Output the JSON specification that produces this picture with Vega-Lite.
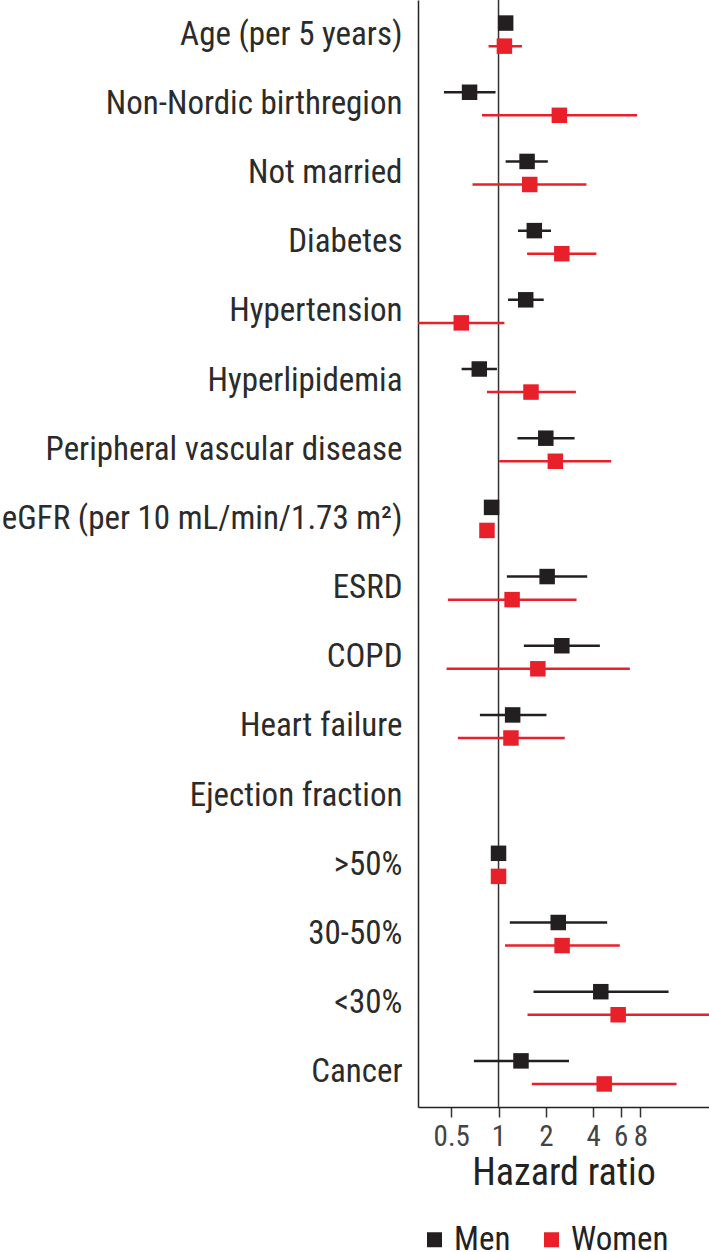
{
  "$schema": "https://vega.github.io/schema/vega-lite/v6.json",
  "autosize": {"type": "none"},
  "padding": {"left": 418, "top": 0, "right": 0, "bottom": 145},
  "width": 291,
  "height": 1107,
  "config": {
    "font": "'Roboto Condensed', Roboto, sans-serif",
    "view": {"stroke": null}
  },
  "data": {
    "values": [
      {"var": "Age (per 5 years)", "sex": "Men", "hr": 1.11, "lo": 1.08, "hi": 1.14},
      {"var": "Age (per 5 years)", "sex": "Women", "hr": 1.09, "lo": 0.864, "hi": 1.41},
      {"var": "Non-Nordic birthregion", "sex": "Men", "hr": 0.654, "lo": 0.449, "hi": 0.957},
      {"var": "Non-Nordic birthregion", "sex": "Women", "hr": 2.44, "lo": 0.784, "hi": 7.63},
      {"var": "Not married", "sex": "Men", "hr": 1.52, "lo": 1.11, "hi": 2.06},
      {"var": "Not married", "sex": "Women", "hr": 1.58, "lo": 0.683, "hi": 3.63},
      {"var": "Diabetes", "sex": "Men", "hr": 1.69, "lo": 1.33, "hi": 2.16},
      {"var": "Diabetes", "sex": "Women", "hr": 2.53, "lo": 1.52, "hi": 4.2},
      {"var": "Hypertension", "sex": "Men", "hr": 1.49, "lo": 1.15, "hi": 1.94},
      {"var": "Hypertension", "sex": "Women", "hr": 0.579, "lo": 0.25, "hi": 1.09},
      {"var": "Hyperlipidemia", "sex": "Men", "hr": 0.754, "lo": 0.582, "hi": 0.977},
      {"var": "Hyperlipidemia", "sex": "Women", "hr": 1.61, "lo": 0.844, "hi": 3.11},
      {"var": "Peripheral vascular disease", "sex": "Men", "hr": 2.0, "lo": 1.32, "hi": 3.05},
      {"var": "Peripheral vascular disease", "sex": "Women", "hr": 2.3, "lo": 1.01, "hi": 5.22},
      {"var": "eGFR (per 10 mL/min/1.73 m²)", "sex": "Men", "hr": 0.903, "lo": 0.88, "hi": 0.93},
      {"var": "eGFR (per 10 mL/min/1.73 m²)", "sex": "Women", "hr": 0.844, "lo": 0.82, "hi": 0.87},
      {"var": "ESRD", "sex": "Men", "hr": 2.04, "lo": 1.13, "hi": 3.67},
      {"var": "ESRD", "sex": "Women", "hr": 1.22, "lo": 0.476, "hi": 3.14},
      {"var": "COPD", "sex": "Men", "hr": 2.53, "lo": 1.45, "hi": 4.42},
      {"var": "COPD", "sex": "Women", "hr": 1.78, "lo": 0.467, "hi": 6.86},
      {"var": "Heart failure", "sex": "Men", "hr": 1.23, "lo": 0.761, "hi": 2.02},
      {"var": "Heart failure", "sex": "Women", "hr": 1.2, "lo": 0.551, "hi": 2.64},
      {"var": ">50%", "sex": "Men", "hr": 1.0, "lo": null, "hi": null},
      {"var": ">50%", "sex": "Women", "hr": 1.0, "lo": null, "hi": null},
      {"var": "30-50%", "sex": "Men", "hr": 2.4, "lo": 1.18, "hi": 4.92},
      {"var": "30-50%", "sex": "Women", "hr": 2.54, "lo": 1.1, "hi": 5.92},
      {"var": "<30%", "sex": "Men", "hr": 4.48, "lo": 1.67, "hi": 12.1},
      {"var": "<30%", "sex": "Women", "hr": 5.78, "lo": 1.53, "hi": 24},
      {"var": "Cancer", "sex": "Men", "hr": 1.39, "lo": 0.697, "hi": 2.81},
      {"var": "Cancer", "sex": "Women", "hr": 4.71, "lo": 1.63, "hi": 13.6}
    ]
  },
  "encoding": {
    "y": {
      "field": "var",
      "type": "nominal",
      "scale": {
        "domain": ["Age (per 5 years)", "Non-Nordic birthregion", "Not married", "Diabetes", "Hypertension", "Hyperlipidemia", "Peripheral vascular disease", "eGFR (per 10 mL/min/1.73 m²)", "ESRD", "COPD", "Heart failure", "Ejection fraction", ">50%", "30-50%", "<30%", "Cancer"],
        "paddingInner": 0,
        "paddingOuter": 0
      },
      "axis": {
        "title": null,
        "ticks": false,
        "domain": true,
        "domainColor": "#222222",
        "domainWidth": 1.5,
        "labelFontSize": 33,
        "labelColor": "#2b2b2b",
        "labelPadding": 16,
        "labelLimit": 420
      }
    },
    "yOffset": {
      "field": "sex",
      "type": "nominal",
      "scale": {"domain": ["Men", "Women"], "paddingInner": 0, "paddingOuter": 0.5}
    },
    "color": {
      "field": "sex",
      "type": "nominal",
      "scale": {"domain": ["Men", "Women"], "range": ["#231f20", "#e8202a"]},
      "legend": {
        "title": null,
        "orient": "bottom",
        "direction": "horizontal",
        "symbolType": "square",
        "symbolSize": 225,
        "symbolStrokeWidth": 0,
        "labelFontSize": 33,
        "labelColor": "#222222",
        "labelOffset": 3,
        "columnPadding": 24,
        "offset": 31
      }
    }
  },
  "layer": [
    {
      "mark": {"type": "rule", "color": "#333333", "strokeWidth": 1.5},
      "data": {"values": [{"ref": 1}]},
      "encoding": {
        "x": {"field": "ref", "type": "quantitative"},
        "y": null,
        "yOffset": null,
        "color": null
      }
    },
    {
      "mark": {"type": "rule", "strokeWidth": 2.5, "clip": true},
      "encoding": {
        "x": {
          "field": "lo",
          "type": "quantitative",
          "scale": {"type": "log", "domain": [0.307, 21.9], "nice": false},
          "axis": {
            "title": "Hazard ratio",
            "values": [0.5, 1, 2, 4, 6, 8],
            "grid": false,
            "domain": true,
            "domainColor": "#222222",
            "domainWidth": 1.5,
            "tickColor": "#333333",
            "tickWidth": 1.5,
            "tickSize": 10,
            "labelFontSize": 29,
            "labelColor": "#444444",
            "labelPadding": 5,
            "labelFlush": false,
            "labelOverlap": false,
            "titleFontSize": 38,
            "titleFontWeight": "normal",
            "titleColor": "#222222",
            "titlePadding": 3
          }
        },
        "x2": {"field": "hi"}
      }
    },
    {
      "mark": {"type": "point", "shape": "square", "filled": true, "size": 240, "opacity": 1},
      "encoding": {
        "x": {"field": "hr", "type": "quantitative"}
      }
    }
  ]
}
